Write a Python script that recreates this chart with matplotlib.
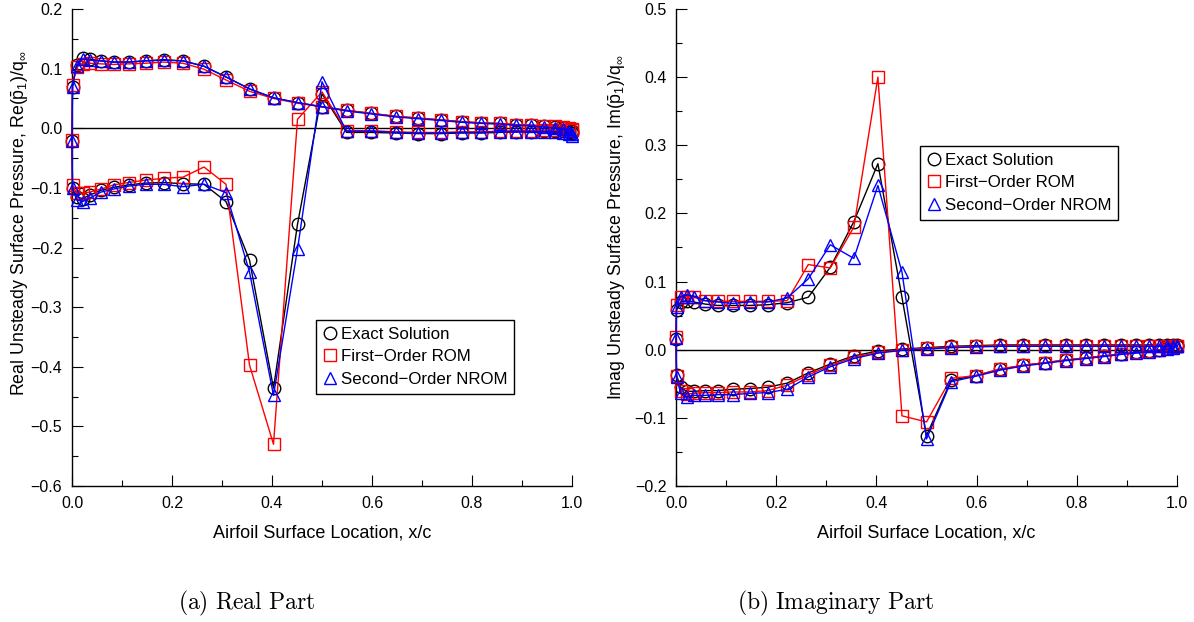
import matplotlib
matplotlib.use("Agg")
import matplotlib.pyplot as plt
from matplotlib.ticker import MultipleLocator, FuncFormatter

plt.rcParams["font.family"] = ["Liberation Sans", "DejaVu Sans"]
plt.rcParams["mathtext.fontset"] = "custom"
plt.rcParams["mathtext.rm"] = "Liberation Sans"
plt.rcParams["mathtext.it"] = "Liberation Sans"
plt.rcParams["mathtext.sf"] = "Liberation Sans"

# Chordwise stations (x/c) on each surface; the leading-edge node sits at x/c = 0
x_le = 0.0
x_surf = [0.001, 0.009, 0.021, 0.036, 0.058, 0.083, 0.113, 0.147, 0.183, 0.222,
          0.264, 0.308, 0.355, 0.403, 0.451, 0.500, 0.549, 0.598, 0.647, 0.692,
          0.737, 0.779, 0.818, 0.855, 0.888, 0.918, 0.944, 0.965, 0.981, 0.993, 1.0]

# ---- Real part ----
# leading-edge node
re_le_exact, re_le_rom, re_le_nrom = -0.022, -0.020, -0.022
# surface with the shock (negative plateau)
re_shock_exact = [-0.100, -0.115, -0.118, -0.112, -0.104, -0.099, -0.095, -0.092, -0.091, -0.093,
                  -0.094, -0.123, -0.221, -0.436, -0.161, 0.058, -0.007, -0.007, -0.008, -0.009,
                  -0.009, -0.008, -0.008, -0.007, -0.006, -0.006, -0.005, -0.005, -0.005, -0.006, -0.008]
re_shock_rom = [-0.095, -0.108, -0.109, -0.107, -0.102, -0.095, -0.091, -0.087, -0.084, -0.082,
                -0.065, -0.094, -0.397, -0.530, 0.015, 0.061, -0.004, -0.004, -0.006, -0.007,
                -0.007, -0.006, -0.006, -0.005, -0.004, -0.004, -0.003, -0.003, -0.003, -0.003, -0.003]
re_shock_nrom = [-0.100, -0.120, -0.123, -0.117, -0.107, -0.102, -0.097, -0.094, -0.094, -0.098,
                 -0.094, -0.108, -0.241, -0.448, -0.203, 0.078, -0.005, -0.005, -0.007, -0.008,
                 -0.008, -0.007, -0.007, -0.006, -0.006, -0.006, -0.006, -0.007, -0.008, -0.010, -0.013]
# opposite surface (positive plateau)
re_smooth_exact = [0.070, 0.106, 0.117, 0.116, 0.113, 0.111, 0.111, 0.113, 0.115, 0.113,
                   0.104, 0.086, 0.066, 0.051, 0.043, 0.036, 0.030, 0.025, 0.020, 0.017,
                   0.014, 0.011, 0.009, 0.008, 0.006, 0.005, 0.004, 0.002, 0.000, -0.002, -0.004]
re_smooth_rom = [0.072, 0.103, 0.108, 0.109, 0.108, 0.107, 0.108, 0.109, 0.111, 0.109,
                 0.099, 0.081, 0.062, 0.050, 0.042, 0.036, 0.030, 0.025, 0.020, 0.017,
                 0.014, 0.011, 0.009, 0.008, 0.006, 0.005, 0.004, 0.003, 0.002, 0.000, -0.002]
re_smooth_nrom = [0.070, 0.104, 0.116, 0.114, 0.113, 0.111, 0.111, 0.113, 0.114, 0.113,
                  0.104, 0.086, 0.066, 0.051, 0.043, 0.036, 0.029, 0.024, 0.019, 0.016,
                  0.013, 0.010, 0.008, 0.007, 0.005, 0.004, 0.002, 0.000, -0.002, -0.005, -0.010]

# ---- Imaginary part ----
im_le_exact, im_le_rom, im_le_nrom = 0.015, 0.019, 0.017
im_shock_exact = [0.058, 0.070, 0.072, 0.070, 0.067, 0.065, 0.065, 0.065, 0.066, 0.069,
                  0.077, 0.121, 0.188, 0.273, 0.077, -0.126, -0.045, -0.038, -0.029, -0.023,
                  -0.019, -0.015, -0.012, -0.009, -0.006, -0.004, -0.002, 0.000, 0.002, 0.004, 0.006]
im_shock_rom = [0.065, 0.078, 0.078, 0.077, 0.072, 0.071, 0.071, 0.071, 0.071, 0.072,
                0.125, 0.120, 0.180, 0.400, -0.097, -0.106, -0.042, -0.038, -0.028, -0.023,
                -0.019, -0.015, -0.012, -0.009, -0.006, -0.004, -0.002, 0.000, 0.002, 0.004, 0.006]
im_shock_nrom = [0.063, 0.078, 0.081, 0.078, 0.072, 0.070, 0.068, 0.070, 0.070, 0.076,
                 0.104, 0.154, 0.134, 0.241, 0.114, -0.131, -0.047, -0.039, -0.030, -0.024,
                 -0.020, -0.016, -0.013, -0.010, -0.007, -0.005, -0.003, -0.001, 0.001, 0.003, 0.006]
im_smooth_exact = [-0.037, -0.055, -0.061, -0.061, -0.060, -0.060, -0.058, -0.057, -0.055, -0.049,
                   -0.034, -0.021, -0.009, -0.002, 0.001, 0.003, 0.005, 0.006, 0.007, 0.007,
                   0.007, 0.007, 0.007, 0.007, 0.007, 0.007, 0.007, 0.007, 0.007, 0.007, 0.007]
im_smooth_rom = [-0.039, -0.060, -0.065, -0.064, -0.063, -0.063, -0.062, -0.062, -0.060, -0.052,
                 -0.037, -0.023, -0.011, -0.004, 0.000, 0.002, 0.004, 0.005, 0.006, 0.006,
                 0.006, 0.006, 0.006, 0.006, 0.006, 0.006, 0.006, 0.006, 0.006, 0.006, 0.006]
im_smooth_nrom = [-0.040, -0.063, -0.069, -0.067, -0.067, -0.066, -0.066, -0.064, -0.063, -0.058,
                  -0.040, -0.025, -0.013, -0.005, -0.001, 0.001, 0.003, 0.004, 0.005, 0.005,
                  0.005, 0.005, 0.005, 0.005, 0.005, 0.005, 0.005, 0.005, 0.005, 0.005, 0.005]

labels = ["Exact Solution", "First\u2212Order ROM", "Second\u2212Order NROM"]


def around_airfoil(surf_a, le, surf_b):
    """Trailing edge -> leading edge along surface a, then back along surface b."""
    xs = x_surf[::-1] + [x_le] + x_surf
    ys = surf_a[::-1] + [le] + surf_b
    return xs, ys


def one_decimal(v, _pos):
    s = f"{v:.1f}"
    if s == "-0.0":
        s = "0.0"
    return s.replace("-", "\u2212")


styles = [
    dict(color="black", marker="o", ms=9),
    dict(color="#ff0000", marker="s", ms=8),
    dict(color="#0000ff", marker="^", ms=9),
]

fig = plt.figure(figsize=(11.94, 6.22), dpi=100)
ax1 = fig.add_axes([72 / 1194, 136 / 622, 500 / 1194, 477 / 622])
ax2 = fig.add_axes([676 / 1194, 136 / 622, 501 / 1194, 477 / 622])


def draw(ax, sets):
    ax.axhline(0.0, color="black", lw=1.0, zorder=1)
    for (a, le, b), st, lab in zip(sets, styles, labels):
        xs, ys = around_airfoil(a, le, b)
        ax.plot(xs, ys, color=st["color"], lw=1.0, marker=st["marker"],
                ms=st["ms"], mfc="none", mec=st["color"], mew=1.0,
                label=lab, zorder=3, clip_on=False)
    for s in ("top", "right"):
        ax.spines[s].set_visible(False)
    for s in ("left", "bottom"):
        ax.spines[s].set_linewidth(1.0)
    ax.set_xlim(0.0, 1.0)
    ax.xaxis.set_major_locator(MultipleLocator(0.2))
    ax.xaxis.set_minor_locator(MultipleLocator(0.1))
    ax.yaxis.set_major_locator(MultipleLocator(0.1))
    ax.yaxis.set_minor_locator(MultipleLocator(0.05))
    ax.xaxis.set_major_formatter(FuncFormatter(one_decimal))
    ax.yaxis.set_major_formatter(FuncFormatter(one_decimal))
    ax.tick_params(which="major", direction="in", length=8, width=0.8,
                   labelsize=11.5, pad=7)
    ax.tick_params(which="minor", direction="in", length=4, width=0.8)
    ax.set_xlabel("Airfoil Surface Location, x/c", fontsize=13, va="top")
    ax.xaxis.set_label_coords(0.5, -0.080)


draw(ax1, [(re_shock_exact, re_le_exact, re_smooth_exact),
           (re_shock_rom, re_le_rom, re_smooth_rom),
           (re_shock_nrom, re_le_nrom, re_smooth_nrom)])
ax1.set_ylim(-0.6, 0.2)
ax1.set_ylabel(r"Real Unsteady Surface Pressure, Re($\bar{\mathrm{p}}_{1}$)/q$_{\infty}$",
               fontsize=12.8, va="center")
ax1.yaxis.set_label_coords(-0.104, 0.551)

draw(ax2, [(im_smooth_exact, im_le_exact, im_shock_exact),
           (im_smooth_rom, im_le_rom, im_shock_rom),
           (im_smooth_nrom, im_le_nrom, im_shock_nrom)])
ax2.set_ylim(-0.2, 0.5)
ax2.set_ylabel(r"Imag Unsteady Surface Pressure, Im($\bar{\mathrm{p}}_{1}$)/q$_{\infty}$",
               fontsize=12.8, va="center")
ax2.yaxis.set_label_coords(-0.118, 0.543)

for ax, anchor in ((ax1, (0.488, 0.348)), (ax2, (0.487, 0.713))):
    leg = ax.legend(loc="upper left", bbox_to_anchor=anchor, borderaxespad=0,
                    fancybox=False, framealpha=1, edgecolor="black",
                    fontsize=12.2, handlelength=0.9, handletextpad=0.15,
                    borderpad=0.4, labelspacing=0.45)
    leg.get_frame().set_linewidth(1.0)
    for h in leg.get_lines():
        h.set_linestyle("none")

fig.text(247 / 1194, 1 - 603 / 622, r"$\mathrm{(a)\ Real\ Part}$", ha="center",
         va="center", fontsize=17, math_fontfamily="cm")
fig.text(836 / 1194, 1 - 603 / 622, r"$\mathrm{(b)\ Imaginary\ Part}$", ha="center",
         va="center", fontsize=17, math_fontfamily="cm")

fig.savefig("out.png", dpi=100)
